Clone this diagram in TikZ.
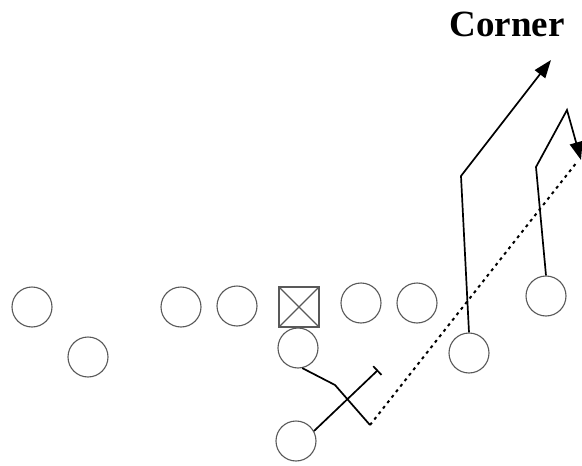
\documentclass[tikz,border=0pt]{standalone}
\usepackage{fontspec}
\setmainfont{Liberation Serif}
\usetikzlibrary{arrows.meta}

\tikzset{
    player/.style={circle, draw=black!65, line width=1.1pt, minimum size=40pt, inner sep=0pt},
    center/.style={rectangle, draw=black!65, line width=1.1pt, minimum size=40pt, inner sep=0pt},
    route/.style={draw=black, line width=1.7pt},
    pass/.style={draw=black, line width=2pt, dash pattern=on 3pt off 4pt}
}

\begin{document}
\begin{tikzpicture}[x=1pt,y=-1pt]
        \useasboundingbox (0,0) rectangle (582,466);

        \node[font=\fontsize{37}{40}\selectfont\bfseries] (title) at (507,24) {Corner};

        % line
        \node[player] (lwr) at (32,307) {};
        \node[player] (slot) at (88,357) {};
        \node[player] (lt) at (181,307) {};
        \node[player] (lg) at (237,306) {};
        \node[center] (c) at (299,307) {};
        \draw[black!65, line width=1.1pt] (c.north west) -- (c.south east) (c.north east) -- (c.south west);
        \node[player] (rg) at (361,303) {};
        \node[player] (rt) at (417,303) {};
        \node[player] (qb) at (298,348) {};
        \node[player] (rb) at (296,441) {};
        \node[player] (wing) at (469,353) {};
        \node[player] (rwr) at (546,296) {};

        \coordinate (cornerbreak) at (461,176);
        \coordinate (cornertip) at (551,60);
        \coordinate (pivot) at (567,110);
        \coordinate (rwrbreak) at (536,167);
        \coordinate (rwrtip) at (581,160);
        \coordinate (qbturn) at (335,385);
        \coordinate (qbend) at (370,425);
        \coordinate (rbend) at (378,370);
        \coordinate (passend) at (577,162);

        \draw[route, -{Triangle[length=18pt,width=13pt]}] (wing.north) -- (cornerbreak) -- (cornertip);
        \draw[route, -{Triangle[length=18pt,width=13pt]}] (rwr.north) -- (rwrbreak) -- (pivot) -- (rwrtip);
        \draw[route] (qb.-78) -- (qbturn) -- (qbend);
        \draw[route, -{Bar[width=12pt]}] (rb.29) -- (rbend);
        \draw[pass] (qbend) -- (passend);

    \end{tikzpicture}
\end{document}
